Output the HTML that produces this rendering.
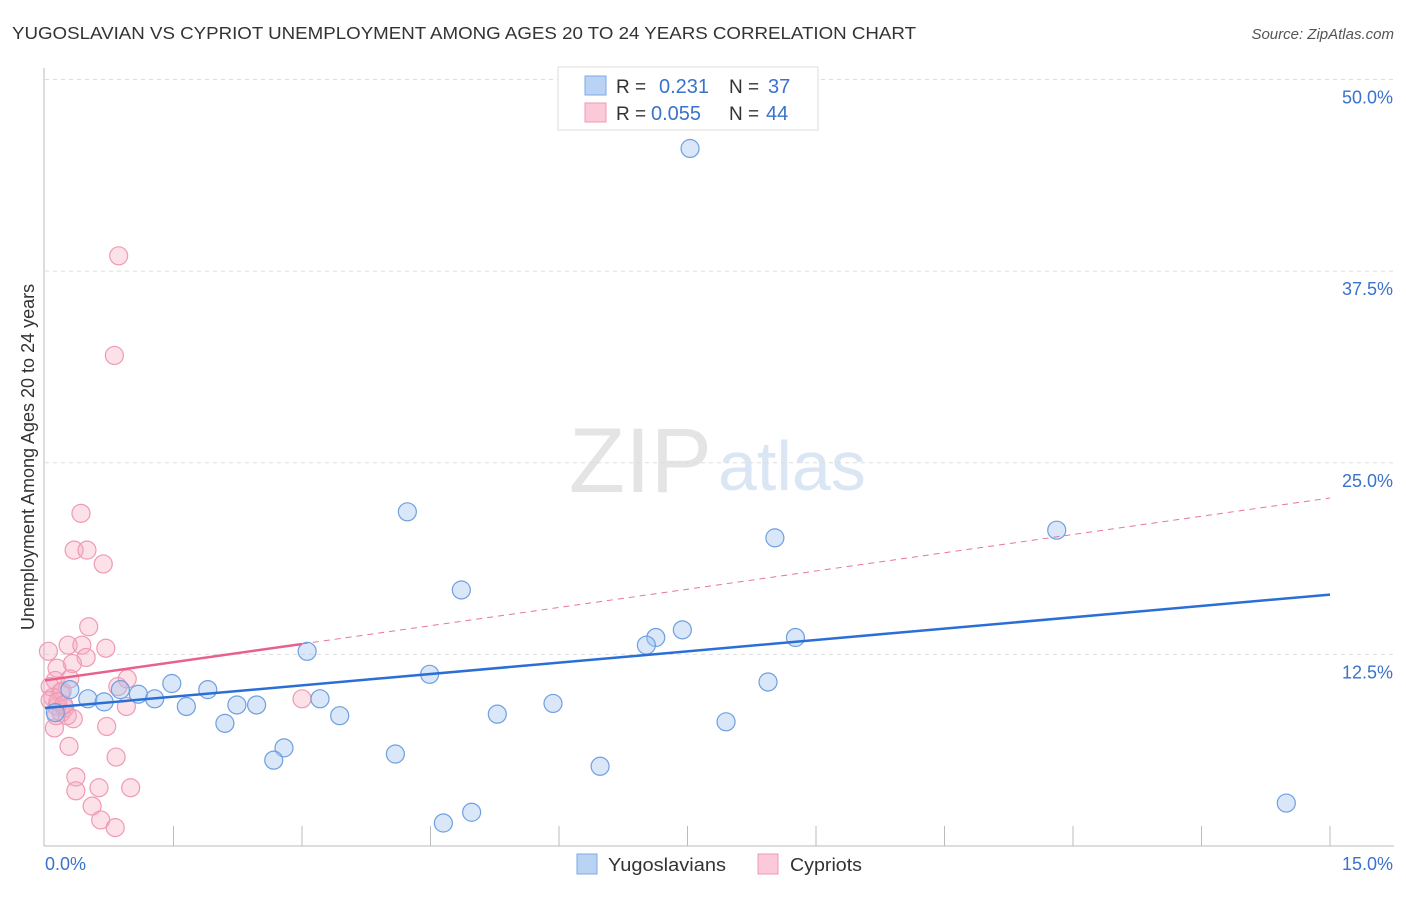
<!DOCTYPE html>
<html><head><meta charset="utf-8"><style>
body{margin:0;background:#fff;font-family:"Liberation Sans",sans-serif}
svg text{font-family:"Liberation Sans",sans-serif}
</style></head><body>
<svg id="c" width="1406" height="892">
<text x="12" y="39" font-size="17.5" fill="#333" textLength="904" lengthAdjust="spacingAndGlyphs">YUGOSLAVIAN VS CYPRIOT UNEMPLOYMENT AMONG AGES 20 TO 24 YEARS CORRELATION CHART</text>
<text x="1394" y="39" font-size="15" fill="#555" font-style="italic" text-anchor="end">Source: ZipAtlas.com</text>
<text x="712" y="492" font-size="92" fill="#e4e4e4" text-anchor="end" font-family="Liberation Serif">ZIP</text>
<text x="718" y="490" font-size="70" fill="#dbe6f5">atlas</text>
<text transform="translate(34,457) rotate(-90)" font-size="18" fill="#333" text-anchor="middle">Unemployment Among Ages 20 to 24 years</text>
<g id="grid"></g><g id="marks"></g>
<g>
<rect x="558" y="67" width="260" height="63" fill="#fff" stroke="#ddd"/>
<rect x="585" y="76" width="21" height="19" fill="#b9d3f5" stroke="#7fa9e5"/>
<rect x="585" y="103" width="21" height="19" fill="#fbc9d7" stroke="#ef9ab4"/>
<text x="616" y="93" font-size="19" fill="#333">R = </text><text x="659" y="93" font-size="20" fill="#3a72cc">0.231</text>
<text x="729" y="93" font-size="19" fill="#333">N = </text><text x="768" y="93" font-size="20" fill="#3a72cc">37</text>
<text x="616" y="120" font-size="19" fill="#333">R = </text><text x="651" y="120" font-size="20" fill="#3a72cc">0.055</text>
<text x="729" y="120" font-size="19" fill="#333">N = </text><text x="766" y="120" font-size="20" fill="#3a72cc">44</text>
</g>
<g>
<rect x="577" y="854" width="20" height="20" fill="#b9d3f5" stroke="#7fa9e5"/>
<text x="608" y="871" font-size="18.5" fill="#333" textLength="118" lengthAdjust="spacingAndGlyphs">Yugoslavians</text>
<rect x="758" y="854" width="20" height="20" fill="#fbc9d7" stroke="#ef9ab4"/>
<text x="790" y="871" font-size="18.5" fill="#333" textLength="72" lengthAdjust="spacingAndGlyphs">Cypriots</text>
</g>
</svg>
<script>
const yTicks=[12.5,25,37.5,50];
const yTickLabels=["12.5%","25.0%","37.5%","50.0%"];
const xTickLabels=["0.0%","15.0%"];
const blueX=[7.53,4.23,11.81,8.52,4.86,7.44,7.13,7.02,8.76,3.06,4.49,8.44,1.48,1.90,0.88,0.29,0.50,1.09,1.28,0.69,2.24,2.47,1.65,3.21,0.12,3.44,5.28,5.93,7.95,2.10,2.79,2.67,4.09,6.48,14.49,4.98,4.65];
const blueY=[45.5,21.8,20.6,20.1,16.7,14.1,13.6,13.1,13.6,12.7,11.2,10.7,10.6,10.2,10.2,10.2,9.6,9.9,9.6,9.4,9.2,9.2,9.1,9.6,8.7,8.5,8.6,9.3,8.1,8.0,6.4,5.6,6.0,5.2,2.8,2.2,1.5];
const pinkX=[0.86,0.81,0.42,0.34,0.49,0.68,0.51,0.27,0.43,0.04,0.71,0.48,0.32,0.14,0.96,0.12,0.29,0.06,0.85,0.18,0.09,3.00,0.95,0.14,0.23,0.19,0.26,0.33,0.11,0.72,0.28,0.83,0.36,0.36,0.63,1.00,0.55,0.65,0.82,0.06,0.20,0.15,0.22,0.13];
const pinkY=[38.5,32.0,21.7,19.3,19.3,18.4,14.3,13.1,13.1,12.7,12.9,12.3,11.9,11.6,10.9,10.8,10.9,10.4,10.4,10.0,9.7,9.6,9.1,9.1,9.0,8.7,8.5,8.3,7.7,7.8,6.5,5.8,4.5,3.6,3.8,3.8,2.6,1.7,1.2,9.5,10.1,9.4,9.2,8.5];
const blueTrend=[9.0,16.4];
const pinkTrend=[10.8,22.7];
const pinkSolidEnd=3.0;
const NS="http://www.w3.org/2000/svg";
const X=v=>45+v*(1285/15), Y=v=>846-v*15.33;
function mk(p,t,a){const e=document.createElementNS(NS,t);for(const k in a)e.setAttribute(k,a[k]);p.appendChild(e);return e;}
const g=document.getElementById('grid'),m=document.getElementById('marks');
yTicks.forEach((t,i)=>{
 const l=mk(g,'line',{x1:45,x2:1394,y1:Y(t),y2:Y(t),stroke:'#ddd','stroke-dasharray':'4,4'});
 
 
 const tx=mk(g,'text',{x:1393,y:Y(t)+24,'font-size':18,fill:'#3a72cc','text-anchor':'end'});tx.textContent=yTickLabels[i];
 
 
});
mk(g,'line',{x1:44,x2:44,y1:68,y2:846,stroke:'#bbb'});
mk(g,'line',{x1:44,x2:1394,y1:846,y2:846,stroke:'#bbb'});
for(let i=1;i<=10;i++){const t=mk(g,'line',{x1:X(i*1.5),x2:X(i*1.5),y1:826,y2:846,stroke:'#bbb'});
 
 }
const a=mk(g,'text',{x:45,y:870,'font-size':18,fill:'#3a72cc'});a.textContent=xTickLabels[0];


const b=mk(g,'text',{x:1393,y:870,'font-size':18,fill:'#3a72cc','text-anchor':'end'});b.textContent=xTickLabels[1];


pinkX.forEach((v,i)=>{const c=mk(m,'circle',{cx:X(v),cy:Y(pinkY[i]),r:9,fill:'rgba(246,168,192,0.35)',stroke:'#ef9ab4','stroke-width':1.2});
 
 });
blueX.forEach((v,i)=>{const c=mk(m,'circle',{cx:X(v),cy:Y(blueY[i]),r:9,fill:'rgba(160,195,240,0.4)',stroke:'#6f9fe0','stroke-width':1.2});
 
 });
const pt=x=>pinkTrend[0]+(pinkTrend[1]-pinkTrend[0])*x/15;
const pd=mk(m,'line',{x1:X(pinkSolidEnd),y1:Y(pt(pinkSolidEnd)),x2:X(15),y2:Y(pinkTrend[1]),stroke:'#e8759a','stroke-width':1,'stroke-dasharray':'6,5'});


const ps=mk(m,'line',{x1:X(0),y1:Y(pinkTrend[0]),x2:X(pinkSolidEnd),y2:Y(pt(pinkSolidEnd)),stroke:'#e8608c','stroke-width':2.5});


const bl=mk(m,'line',{x1:X(0),y1:Y(blueTrend[0]),x2:X(15),y2:Y(blueTrend[1]),stroke:'#2a6fd6','stroke-width':2.5});


</script>
</body></html>
